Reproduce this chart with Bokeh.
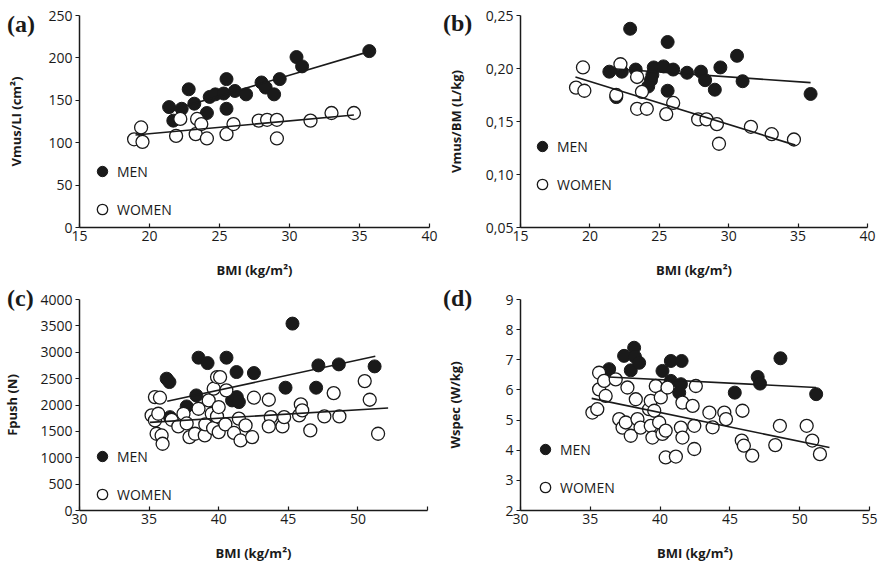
from bokeh.plotting import figure
from bokeh.layouts import gridplot, column
from bokeh.models import FixedTicker, Legend, LegendItem, Div
from bokeh.embed import file_html
from bokeh.resources import INLINE

# ---------------- data ----------------
# (a) Vmus/LI vs BMI
men_a_bmi = [21.4, 21.7, 22.3, 22.8, 23.2, 24.1, 24.3, 24.7, 25.3, 25.5, 25.5, 26.1, 26.9, 28.0, 28.3, 28.9, 29.3, 30.5, 30.9, 35.7]
men_a_val = [142, 126, 140, 163, 146, 135, 154, 157, 158, 175, 140, 161, 157, 171, 165, 157, 175, 201, 190, 208]
women_a_bmi = [18.9, 19.4, 19.5, 21.9, 22.2, 23.3, 23.4, 23.7, 24.1, 25.5, 26.0, 27.8, 28.4, 29.1, 29.1, 31.5, 33.0, 34.6]
women_a_val = [104, 118, 101, 108, 128, 110, 128, 122, 105, 110, 122, 126, 127, 127, 105, 126, 135, 135]
men_a_fit_x = [21.3, 35.8]
men_a_fit_y = [137, 208]
women_a_fit_x = [19.0, 34.6]
women_a_fit_y = [109, 132.7]

# (b) Vmus/BM vs BMI
men_b_bmi = [21.4, 21.9, 22.3, 22.9, 23.3, 24.2, 24.4, 24.5, 24.6, 25.3, 25.6, 25.6, 26.0, 27.0, 28.0, 28.3, 29.0, 29.4, 30.6, 31.0, 35.9]
men_b_val = [0.197, 0.173, 0.197, 0.2375, 0.199, 0.183, 0.189, 0.194, 0.201, 0.202, 0.225, 0.179, 0.199, 0.196, 0.197, 0.189, 0.180, 0.201, 0.212, 0.188, 0.176]
women_b_bmi = [19.0, 19.5, 19.6, 21.9, 22.2, 23.4, 23.75, 23.4, 24.1, 25.5, 26.0, 27.8, 28.4, 29.15, 29.3, 31.6, 33.1, 34.7]
women_b_val = [0.182, 0.201, 0.179, 0.175, 0.204, 0.192, 0.178, 0.162, 0.162, 0.157, 0.1675, 0.152, 0.152, 0.1475, 0.129, 0.145, 0.138, 0.133]
men_b_fit_x = [21.4, 35.9]
men_b_fit_y = [0.200, 0.1867]
women_b_fit_x = [18.96, 34.8]
women_b_fit_y = [0.192, 0.1277]

# (c) Fpush vs BMI
men_c_bmi = [36.26, 36.46, 36.5, 37.7, 38.39, 38.55, 39.2, 40.56, 40.96, 41.28, 41.3, 41.45, 42.53, 44.8, 45.3, 47.0, 47.16, 48.63, 51.2]
men_c_val = [2499, 2435, 1770, 1973, 2182, 2897, 2795, 2897, 2087, 2625, 2150, 2055, 2606, 2328, 3543, 2328, 2751, 2770, 2732]
women_c_bmi = [35.18, 35.42, 35.42, 35.54, 35.66, 35.78, 35.9, 35.97, 36.62, 37.1, 37.47, 37.7, 37.9, 38.3, 38.55, 39.0, 39.04,
               39.28, 39.5, 39.6, 39.64, 39.88, 39.88, 40.0, 40.0, 40.1, 40.48, 40.55, 41.1, 41.45, 41.57, 41.93, 42.4, 42.53,
               43.6, 43.74, 43.6, 44.58, 44.7, 45.78, 45.9, 46.0, 46.58, 47.59, 48.26, 48.67, 50.49, 50.85, 51.45]
women_c_val = [1803, 1708, 2150, 1455, 1834, 2138, 1423, 1265, 1720, 1594, 1834, 1650, 1391, 1455, 1929, 1424, 1632,
               2087, 1834, 1560, 2309, 2530, 1784, 1961, 1486, 2530, 1632, 2277, 1470, 1741, 1328, 1613, 1391, 2138,
               2100, 1770, 1594, 1594, 1770, 1803, 2011, 1898, 1518, 1784, 2226, 1784, 2453, 2100, 1455]
men_c_fit_x = [36.3, 51.25]
men_c_fit_y = [2070, 2924]
women_c_fit_x = [35.06, 52.17]
women_c_fit_y = [1671, 1943]

# (d) Wspec vs BMI
men_d_bmi = [36.35, 37.42, 37.9, 38.14, 38.2, 38.5, 40.17, 40.77, 40.77, 41.54, 41.49, 41.37, 45.35, 46.99, 47.16, 48.62, 51.18]
men_d_val = [6.69, 7.13, 6.65, 7.40, 7.10, 6.90, 6.63, 6.30, 6.96, 6.96, 6.19, 5.91, 5.91, 6.43, 6.21, 7.05, 5.86]
women_d_bmi = [35.15, 35.5, 35.63, 35.63, 35.99, 36.1, 36.82, 37.07, 37.31, 37.54, 37.66, 37.9, 38.26, 38.38, 38.6, 39.21,
               39.33, 39.33, 39.45, 39.58, 39.69, 39.93, 40.05, 40.17, 40.4, 40.53, 40.4, 41.13, 41.49, 41.6, 41.6, 42.33,
               42.45, 42.45, 42.56, 43.53, 43.76, 44.6, 44.72, 45.9, 45.85, 46.0, 46.6, 48.25, 48.58, 50.5, 50.9, 51.45]
women_d_val = [5.25, 5.36, 6.57, 6.02, 6.30, 5.80, 6.35, 5.03, 4.75, 4.92, 6.08, 4.48, 5.69, 5.03, 4.75, 5.36,
               5.64, 4.81, 4.42, 5.31, 6.13, 4.92, 5.75, 4.54, 4.65, 6.08, 3.76, 3.79, 4.75, 4.42, 5.58, 5.47,
               4.81, 4.04, 6.13, 5.25, 4.76, 5.25, 5.03, 5.31, 4.32, 4.15, 3.82, 4.17, 4.81, 4.81, 4.32, 3.87]
men_d_fit_x = [36.3, 51.17]
men_d_fit_y = [6.43, 6.08]
women_d_fit_x = [35.1, 52.13]
women_d_fit_y = [5.72, 4.09]

x_ticks_ab = [15, 20, 25, 30, 35, 40]
x_ticks_cd = [30, 35, 40, 45, 50, 55]
y_ticks_a = [0, 50, 100, 150, 200, 250]
y_ticks_b = [0.05, 0.10, 0.15, 0.20, 0.25]
y_labels_b = ["0,05", "0,10", "0,15", "0,20", "0,25"]
y_ticks_c = [0, 500, 1000, 1500, 2000, 2500, 3000, 3500, 4000]
y_ticks_d = [2, 3, 4, 5, 6, 7, 8, 9]
panel_letters = ["(a)", "(b)", "(c)", "(d)"]

FONT = "Open Sans"
INK = "#1a1a1a"


def make_panel(xr, yr, xt, yt, ylab, men_x, men_y, wom_x, wom_y, mfx, mfy, wfx, wfy,
               borders, frame, ylab_standoff, legend_loc, x_over=None, y_over=None):
    bl, br, bt, bb = borders
    fw, fh = frame
    p = figure(frame_width=fw, frame_height=fh, x_range=xr, y_range=yr,
               output_backend="svg", toolbar_location=None,
               min_border_left=bl, min_border_right=br, min_border_top=bt, min_border_bottom=bb)
    p.grid.visible = False
    p.outline_line_color = None
    p.background_fill_color = "white"
    p.border_fill_color = "white"

    for ax in (p.xaxis[0], p.yaxis[0]):
        ax.axis_line_color = INK
        ax.axis_line_width = 1.5
        ax.major_tick_line_color = INK
        ax.major_tick_line_width = 1.2
        ax.minor_tick_line_color = None
        ax.major_label_text_font = FONT
        ax.major_label_text_font_size = "14px"
        ax.major_label_text_color = INK
        ax.axis_label_text_font = FONT
        ax.axis_label_text_font_style = "bold"
        ax.axis_label_text_font_size = "13px"
        ax.axis_label_text_color = INK

    xa = p.xaxis[0]
    xa.ticker = FixedTicker(ticks=xt)
    xa.major_tick_in = 4
    xa.major_tick_out = 0
    xa.major_label_standoff = 3
    xa.axis_label = "BMI (kg/m\u00b2)"
    xa.axis_label_standoff = 17
    if x_over:
        xa.major_label_overrides = x_over

    ya = p.yaxis[0]
    ya.ticker = FixedTicker(ticks=yt)
    ya.major_tick_in = 0
    ya.major_tick_out = 4
    ya.major_label_standoff = 3
    ya.axis_label = ylab
    ya.axis_label_standoff = ylab_standoff
    if y_over:
        ya.major_label_overrides = y_over

    rm = p.scatter(men_x, men_y, marker="circle", size=13, fill_color=INK, line_color=INK, line_width=1)
    rw = p.scatter(wom_x, wom_y, marker="circle", size=13, fill_color="white", line_color=INK, line_width=1.3)
    p.line(mfx, mfy, line_color=INK, line_width=1.6)
    p.line(wfx, wfy, line_color=INK, line_width=1.6)

    leg = Legend(items=[LegendItem(label="MEN", renderers=[rm]), LegendItem(label="WOMEN", renderers=[rw])],
                 location=legend_loc, orientation="vertical", padding=0, margin=0, spacing=12,
                 glyph_width=26, glyph_height=26, label_standoff=2, label_height=26,
                 label_text_font=FONT, label_text_font_size="14px", label_text_color=INK,
                 border_line_color=None, background_fill_alpha=0)
    p.add_layout(leg, "center")
    return p


pa = make_panel((15, 40), (0, 250), x_ticks_ab, y_ticks_a, "Vmus/LI (cm\u00b2)",
                men_a_bmi, men_a_val, women_a_bmi, women_a_val,
                men_a_fit_x, men_a_fit_y, women_a_fit_x, women_a_fit_y,
                (77, 13, 15, 55), (350, 212), 20, (10, 5))
pb = make_panel((15, 40), (0.05, 0.25), x_ticks_ab, y_ticks_b, "Vmus/BM (L/kg)",
                men_b_bmi, men_b_val, women_b_bmi, women_b_val,
                men_b_fit_x, men_b_fit_y, women_b_fit_x, women_b_fit_y,
                (77, 16, 15, 55), (347, 212), 18, (9, 30),
                y_over={t: s for t, s in zip(y_ticks_b, y_labels_b)})
pc = make_panel((30, 55), (0, 4000), x_ticks_cd, y_ticks_c, "Fpush (N)",
                men_c_bmi, men_c_val, women_c_bmi, women_c_val,
                men_c_fit_x, men_c_fit_y, women_c_fit_x, women_c_fit_y,
                (77, 15, 17, 54), (348, 211), 16, (10, 3),
                x_over={55: ""})
pd_ = make_panel((30, 55), (2, 9), x_ticks_cd, y_ticks_d, "Wspec (W/kg)",
                 men_d_bmi, men_d_val, women_d_bmi, women_d_val,
                 men_d_fit_x, men_d_fit_y, women_d_fit_x, women_d_fit_y,
                 (78, 13, 17, 54), (349, 211), 38, (12, 10))

grid = gridplot([[pa, pb], [pc, pd_]], toolbar_location=None)

# panel letters as an overlay (outside the plot frames, where glyphs are clipped)
letter_spots = [(7, 7), (443, 6), (7, 281), (443, 281)]
spans = "".join(
    '<span style="position:absolute;left:%dpx;top:%dpx;white-space:nowrap;">%s</span>' % (lx, ly, t)
    for (lx, ly), t in zip(letter_spots, panel_letters))
letters = Div(text=spans, width=880, height=0, margin=0,
              styles={"position": "relative", "z-index": "10", "overflow": "visible",
                      "font-family": "Liberation Serif", "font-weight": "bold",
                      "font-size": "24px", "color": INK})

layout = column(letters, grid, spacing=0)
open("out.html", "w").write(file_html(layout, INLINE))
